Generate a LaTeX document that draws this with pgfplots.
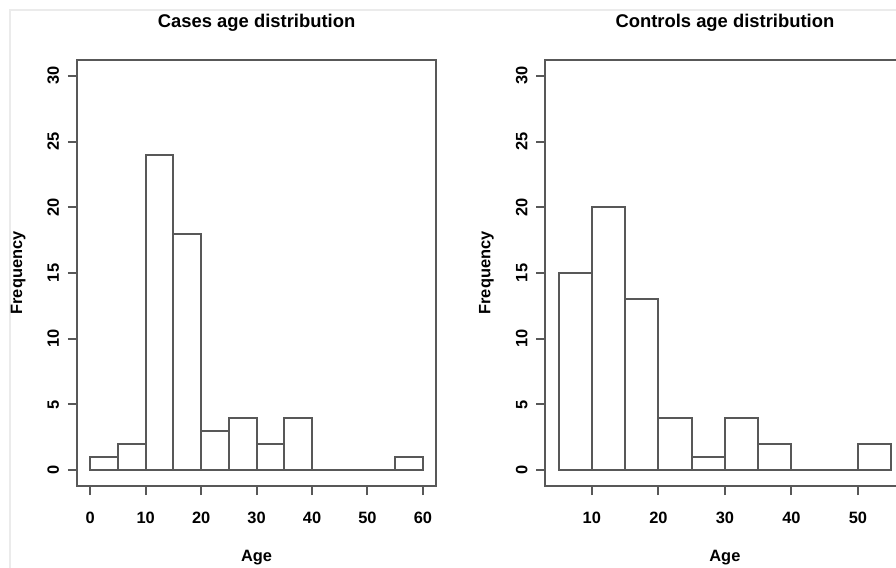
\documentclass[border=0pt]{standalone}
\usepackage{fontspec}
\setmainfont{Liberation Sans}
\usepackage{pgfplots}
\pgfplotsset{compat=1.18}
\definecolor{histline}{RGB}{88,88,88}

% frequencies per 5-year bin (left edge, count); last row closes the interval
\pgfplotstableread{
x y
0 1
5 2
10 24
15 18
20 3
25 4
30 2
35 4
40 0
45 0
50 0
55 1
60 1
}\cases
\pgfplotstableread{
x y
5 15
10 20
15 13
20 4
25 1
30 4
35 2
40 0
45 0
50 2
55 2
}\controls

\pgfplotsset{
  rhist/.style={
    scale only axis,
    width=179.6pt, height=213pt,
    anchor=south west,
    ymin=-1.2, ymax=31.2,
    ytick={0,5,...,30},
    axis line style={histline, line width=1pt},
    every tick/.style={histline, line width=1pt},
    tick align=outside,
    major tick length=4.6pt,
    tick pos=left,
    /pgf/number format/assume math mode=true,
    ticklabel style={font=\fontsize{8.2}{10}\selectfont\bfseries},
    yticklabel style={rotate=90, anchor=south},
    xticklabel shift=5pt,
    yticklabel shift=0.8pt,
    ylabel={Frequency},
    xlabel={Age},
    label style={font=\fontsize{8.2}{10}\selectfont\bfseries},
    xlabel style={at={(axis description cs:0.5,-0.169)}, anchor=center},
    ylabel style={at={(axis description cs:-0.164,0.5)}, anchor=center},
    title style={at={(axis description cs:0.5,1.0586)}, anchor=center,
                 font=\fontsize{9.2}{11}\selectfont\bfseries},
  },
}

\begin{document}
\begin{tikzpicture}
\path[use as bounding box] (0,0) rectangle (448pt,284pt);
\draw[black!8, line width=0.6pt] (5pt,0) -- (5pt,279pt) -- (448pt,279pt);

\begin{axis}[rhist, at={(38.5pt,41pt)},
  xmin=-2.4, xmax=62.4,
  xtick={0,10,...,60},
  title={Cases age distribution}]
  \addplot[ybar interval, draw=histline, line width=1pt, fill=white]
    table[x=x, y=y] {\cases};
\end{axis}

\begin{axis}[rhist, at={(272.65pt,41pt)},
  xmin=3, xmax=57,
  xtick={10,20,...,50},
  title={Controls age distribution}]
  \addplot[ybar interval, draw=histline, line width=1pt, fill=white]
    table[x=x, y=y] {\controls};
\end{axis}
\end{tikzpicture}
\end{document}
